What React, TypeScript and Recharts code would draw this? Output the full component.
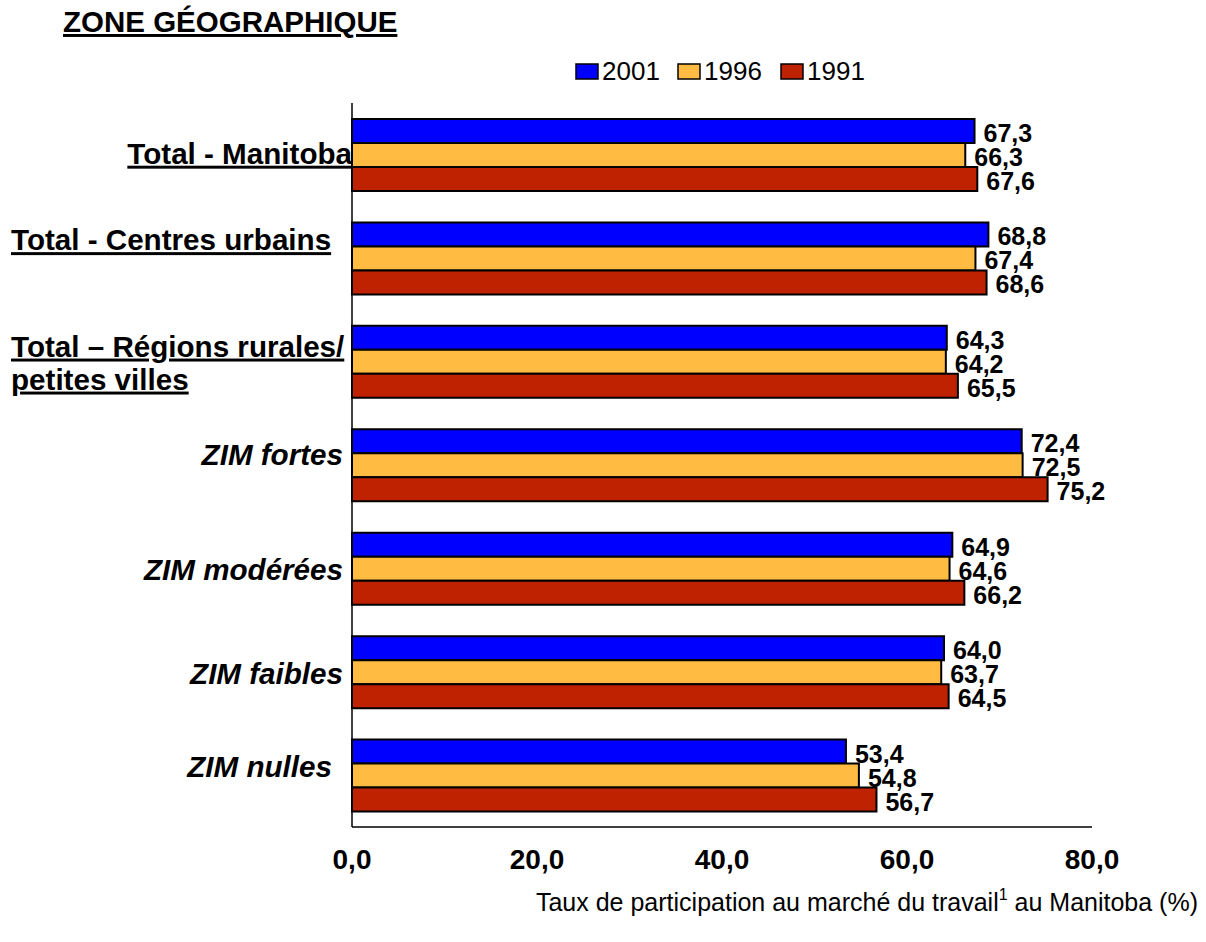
import { BarChart, Bar, XAxis, YAxis, LabelList } from 'recharts';

const categories = [
  'Total - Manitoba',
  'Total - Centres urbains',
  'Total – Régions rurales/|petites villes',
  'ZIM fortes',
  'ZIM modérées',
  'ZIM faibles',
  'ZIM nulles',
];
const values2001 = [67.3, 68.8, 64.3, 72.4, 64.9, 64.0, 53.4];
const values1996 = [66.3, 67.4, 64.2, 72.5, 64.6, 63.7, 54.8];
const values1991 = [67.6, 68.6, 65.5, 75.2, 66.2, 64.5, 56.7];
const seriesNames = ['2001', '1996', '1991'];
const xTicks = [0, 20, 40, 60, 80];

const COLORS = ['#0000ff', '#ffbb42', '#bf2200'];
const FONT = '"Liberation Sans", Arial, sans-serif';

// label placement for the category axis (the source is not uniformly aligned)
const labelLayout = [
  { x: 352, anchor: 'end', dy: 9, underline: true, italic: false },
  { x: 11, anchor: 'start', dy: -8, underline: true, italic: false },
  { x: 11, anchor: 'start', dy: -5, underline: true, italic: false },
  { x: 343, anchor: 'end', dy: 0, underline: false, italic: true },
  { x: 343, anchor: 'end', dy: 12, underline: false, italic: true },
  { x: 343, anchor: 'end', dy: 12, underline: false, italic: true },
  { x: 332, anchor: 'end', dy: 2, underline: false, italic: true },
];

const data = categories.map((name, i) => ({
  name,
  v2001: values2001[i],
  v1996: values1996[i],
  v1991: values1991[i],
}));

const fmt = (v: number) => v.toFixed(1).replace('.', ',');

function CategoryTick(props: any) {
  const { y, payload, index } = props;
  const l = labelLayout[index] ?? labelLayout[3];
  const lines = String(payload.value).split('|');
  return (
    <g>
      {lines.map((line, k) => (
        <text
          key={k}
          x={l.x}
          y={y + l.dy + k * 33}
          textAnchor={l.anchor}
          fontFamily={FONT}
          fontSize={29.6}
          fontWeight="bold"
          fontStyle={l.italic ? 'italic' : 'normal'}
          textDecoration={l.underline ? 'underline' : undefined}
          fill="#000"
        >
          {line}
        </text>
      ))}
    </g>
  );
}

function ValueTick(props: any) {
  const { x, y, payload } = props;
  return (
    <text x={x} y={y + 40} textAnchor="middle" fontFamily={FONT} fontSize={28} fontWeight="bold" fill="#000">
      {fmt(payload.value)}
    </text>
  );
}

function BarValue(props: any) {
  const { x, y, width, height, value } = props;
  return (
    <text
      x={x + width + 9}
      y={y + height / 2 + 11}
      fontFamily={FONT}
      fontSize={25}
      fontWeight="bold"
      fill="#000"
    >
      {fmt(Number(value))}
    </text>
  );
}

export default function App() {
  const keys = ['v2001', 'v1996', 'v1991'];
  const legendX = [576, 678, 781];
  return (
    <div style={{ position: 'absolute', left: 0, top: 0, width: 1206, height: 942, background: '#fff' }}>
      <BarChart
        width={1206}
        height={942}
        data={data}
        layout="vertical"
        margin={{ top: 103, right: 114, bottom: 0, left: 0 }}
        barGap={0}
        barSize={24}
      >
        <XAxis
          type="number"
          domain={[0, 80]}
          ticks={xTicks}
          height={115}
          tickLine={false}
          tickSize={0}
          axisLine={{ stroke: '#000', strokeWidth: 1.5 }}
          tick={<ValueTick />}
          interval={0}
        />
        <YAxis
          type="category"
          dataKey="name"
          width={352}
          tickLine={false}
          tickSize={0}
          axisLine={{ stroke: '#000', strokeWidth: 1.5 }}
          tick={<CategoryTick />}
          interval={0}
        />
        {keys.map((k, i) => (
          <Bar key={k} dataKey={k} name={seriesNames[i]} fill={COLORS[i]} stroke="#000" strokeWidth={2} isAnimationActive={false}>
            <LabelList dataKey={k} content={<BarValue />} />
          </Bar>
        ))}
      </BarChart>
      <svg width={1206} height={942} style={{ position: 'absolute', left: 0, top: 0, pointerEvents: 'none' }}>
        <text x={63} y={32} fontFamily={FONT} fontSize={29.5} fontWeight="bold" textDecoration="underline" fill="#000">
          ZONE GÉOGRAPHIQUE
        </text>
        {seriesNames.map((s, i) => (
          <g key={s}>
            <rect x={legendX[i]} y={64} width={22} height={15} fill={COLORS[i]} stroke="#000" strokeWidth={1.5} />
            <text x={legendX[i] + 26} y={80} fontFamily={FONT} fontSize={26} fill="#000">
              {s}
            </text>
          </g>
        ))}
        <text x={1198} y={911} textAnchor="end" fontFamily={FONT} fontSize={25} fill="#000">
          Taux de participation au marché du travail
          <tspan fontSize={16} dy={-11}>1</tspan>
          <tspan dy={11}> au Manitoba (%)</tspan>
        </text>
      </svg>
    </div>
  );
}
